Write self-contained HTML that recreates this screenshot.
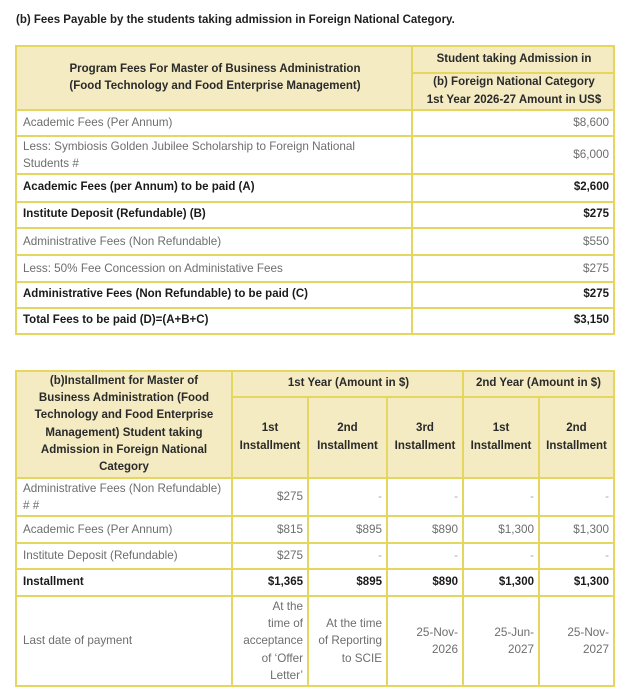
<!DOCTYPE html>
<html><head><meta charset="utf-8">
<style>
html,body{margin:0;padding:0;background:#fff;}
body{width:627px;height:698px;position:relative;overflow:hidden;font-family:"Liberation Sans",Arial,sans-serif;}
.t{position:absolute;left:16px;top:12px;font-size:11.5px;font-weight:bold;color:#1f1f1f;white-space:nowrap;line-height:16px;}
.bg{position:absolute;background:#f4ebc3;}
.c{position:absolute;display:flex;align-items:center;box-sizing:border-box;padding:0 5px 0 7px;line-height:17.2px;white-space:nowrap;font-size:11.7px;}
.r{justify-content:flex-end;text-align:right;}
.m{justify-content:center;text-align:center;}
.h{font-weight:bold;color:#2a2a2a;font-size:11.5px;}
.g{color:#6e6e6e;}
.b{font-weight:bold;color:#1a1a1a;font-size:11.5px;}
.d{color:#aaa;}
.hl{position:absolute;height:2px;background:#e4d65e;z-index:2;}
.vl{position:absolute;width:2px;background:#e4d65e;z-index:2;}
</style></head><body>
<div class="t">(b) Fees Payable by the students taking admission in Foreign National Category.</div>

<!-- TABLE 1 -->
<div class="bg" style="left:16px;top:46px;width:598px;height:64px;"></div>
<div class="hl" style="left:15px;top:45px;width:600px;"></div>
<div class="hl" style="left:411px;top:72px;width:204px;"></div>
<div class="hl" style="left:15px;top:109px;width:600px;"></div>
<div class="hl" style="left:15px;top:135px;width:600px;"></div>
<div class="hl" style="left:15px;top:173px;width:600px;"></div>
<div class="hl" style="left:15px;top:201px;width:600px;"></div>
<div class="hl" style="left:15px;top:227px;width:600px;"></div>
<div class="hl" style="left:15px;top:254px;width:600px;"></div>
<div class="hl" style="left:15px;top:281px;width:600px;"></div>
<div class="hl" style="left:15px;top:307px;width:600px;"></div>
<div class="hl" style="left:15px;top:333px;width:600px;"></div>
<div class="vl" style="left:15px;top:45px;height:290px;"></div>
<div class="vl" style="left:411px;top:45px;height:290px;"></div>
<div class="vl" style="left:613px;top:45px;height:290px;"></div>

<div class="c m h" style="left:16px;top:46px;width:396px;height:64px;">Program Fees For Master of Business Administration<br>(Food Technology and Food Enterprise Management)</div>
<div class="c m h" style="left:412px;top:46px;width:202px;height:27px;">Student taking Admission in</div>
<div class="c m h" style="left:412px;top:73px;width:202px;height:37px;">(b) Foreign National Category<br>1st Year 2026-27 Amount in US$</div>

<div class="c g" style="left:16px;top:110px;width:396px;height:26px;">Academic Fees (Per Annum)</div>
<div class="c r g" style="left:412px;top:110px;width:202px;height:26px;">$8,600</div>
<div class="c g" style="left:16px;top:136px;width:396px;height:38px;">Less: Symbiosis Golden Jubilee Scholarship to Foreign National<br>Students #</div>
<div class="c r g" style="left:412px;top:136px;width:202px;height:38px;">$6,000</div>
<div class="c b" style="left:16px;top:174px;width:396px;height:28px;">Academic Fees (per Annum) to be paid (A)</div>
<div class="c r b" style="left:412px;top:174px;width:202px;height:28px;">$2,600</div>
<div class="c b" style="left:16px;top:202px;width:396px;height:26px;">Institute Deposit (Refundable) (B)</div>
<div class="c r b" style="left:412px;top:202px;width:202px;height:26px;">$275</div>
<div class="c g" style="left:16px;top:228px;width:396px;height:27px;">Administrative Fees (Non Refundable)</div>
<div class="c r g" style="left:412px;top:228px;width:202px;height:27px;">$550</div>
<div class="c g" style="left:16px;top:255px;width:396px;height:27px;">Less: 50% Fee Concession on Administative Fees</div>
<div class="c r g" style="left:412px;top:255px;width:202px;height:27px;">$275</div>
<div class="c b" style="left:16px;top:282px;width:396px;height:26px;">Administrative Fees (Non Refundable) to be paid (C)</div>
<div class="c r b" style="left:412px;top:282px;width:202px;height:26px;">$275</div>
<div class="c b" style="left:16px;top:308px;width:396px;height:26px;">Total Fees to be paid (D)=(A+B+C)</div>
<div class="c r b" style="left:412px;top:308px;width:202px;height:26px;">$3,150</div>

<!-- TABLE 2 -->
<div class="bg" style="left:16px;top:371px;width:598px;height:107px;"></div>
<div class="hl" style="left:15px;top:370px;width:600px;"></div>
<div class="hl" style="left:231px;top:396px;width:384px;"></div>
<div class="hl" style="left:15px;top:477px;width:600px;"></div>
<div class="hl" style="left:15px;top:515px;width:600px;"></div>
<div class="hl" style="left:15px;top:542px;width:600px;"></div>
<div class="hl" style="left:15px;top:568px;width:600px;"></div>
<div class="hl" style="left:15px;top:595px;width:600px;"></div>
<div class="hl" style="left:15px;top:685px;width:600px;"></div>
<div class="vl" style="left:15px;top:370px;height:317px;"></div>
<div class="vl" style="left:231px;top:370px;height:317px;"></div>
<div class="vl" style="left:307px;top:396px;height:291px;"></div>
<div class="vl" style="left:386px;top:396px;height:291px;"></div>
<div class="vl" style="left:462px;top:370px;height:317px;"></div>
<div class="vl" style="left:538px;top:396px;height:291px;"></div>
<div class="vl" style="left:613px;top:370px;height:317px;"></div>

<div class="c m h" style="left:16px;top:371px;width:216px;height:107px;padding:0 4px;">(b)Installment for Master of<br>Business Administration (Food<br>Technology and Food Enterprise<br>Management) Student taking<br>Admission in Foreign National<br>Category</div>
<div class="c m h" style="left:232px;top:371px;width:231px;height:26px;">1st Year (Amount in $)</div>
<div class="c m h" style="left:463px;top:371px;width:151px;height:26px;padding:0 3px;">2nd Year (Amount in $)</div>
<div class="c m h" style="left:232px;top:397px;width:76px;height:81px;padding:0 2px;">1st<br>Installment</div>
<div class="c m h" style="left:308px;top:397px;width:79px;height:81px;padding:0 2px;">2nd<br>Installment</div>
<div class="c m h" style="left:387px;top:397px;width:76px;height:81px;padding:0 2px;">3rd<br>Installment</div>
<div class="c m h" style="left:463px;top:397px;width:76px;height:81px;padding:0 2px;">1st<br>Installment</div>
<div class="c m h" style="left:539px;top:397px;width:75px;height:81px;padding:0 2px;">2nd<br>Installment</div>

<!-- row admin -->
<div class="c g" style="left:16px;top:478px;width:216px;height:38px;">Administrative Fees (Non Refundable)<br># #</div>
<div class="c r g" style="left:232px;top:478px;width:76px;height:38px;">$275</div>
<div class="c r d" style="left:308px;top:478px;width:79px;height:38px;">-</div>
<div class="c r d" style="left:387px;top:478px;width:76px;height:38px;">-</div>
<div class="c r d" style="left:463px;top:478px;width:76px;height:38px;">-</div>
<div class="c r d" style="left:539px;top:478px;width:75px;height:38px;">-</div>
<!-- row academic -->
<div class="c g" style="left:16px;top:516px;width:216px;height:27px;">Academic Fees (Per Annum)</div>
<div class="c r g" style="left:232px;top:516px;width:76px;height:27px;">$815</div>
<div class="c r g" style="left:308px;top:516px;width:79px;height:27px;">$895</div>
<div class="c r g" style="left:387px;top:516px;width:76px;height:27px;">$890</div>
<div class="c r g" style="left:463px;top:516px;width:76px;height:27px;">$1,300</div>
<div class="c r g" style="left:539px;top:516px;width:75px;height:27px;">$1,300</div>
<!-- row deposit -->
<div class="c g" style="left:16px;top:543px;width:216px;height:26px;">Institute Deposit (Refundable)</div>
<div class="c r g" style="left:232px;top:543px;width:76px;height:26px;">$275</div>
<div class="c r d" style="left:308px;top:543px;width:79px;height:26px;">-</div>
<div class="c r d" style="left:387px;top:543px;width:76px;height:26px;">-</div>
<div class="c r d" style="left:463px;top:543px;width:76px;height:26px;">-</div>
<div class="c r d" style="left:539px;top:543px;width:75px;height:26px;">-</div>
<!-- row installment -->
<div class="c b" style="left:16px;top:569px;width:216px;height:27px;">Installment</div>
<div class="c r b" style="left:232px;top:569px;width:76px;height:27px;">$1,365</div>
<div class="c r b" style="left:308px;top:569px;width:79px;height:27px;">$895</div>
<div class="c r b" style="left:387px;top:569px;width:76px;height:27px;">$890</div>
<div class="c r b" style="left:463px;top:569px;width:76px;height:27px;">$1,300</div>
<div class="c r b" style="left:539px;top:569px;width:75px;height:27px;">$1,300</div>
<!-- row last date -->
<div class="c g" style="left:16px;top:596px;width:216px;height:90px;">Last date of payment</div>
<div class="c r g" style="left:232px;top:596px;width:76px;height:90px;padding:0 5px 0 2px;">At the<br>time of<br>acceptance<br>of ‘Offer<br>Letter’</div>
<div class="c r g" style="left:308px;top:596px;width:79px;height:90px;padding:0 5px 0 2px;">At the time<br>of Reporting<br>to SCIE</div>
<div class="c r g" style="left:387px;top:596px;width:76px;height:90px;">25-Nov-<br>2026</div>
<div class="c r g" style="left:463px;top:596px;width:76px;height:90px;">25-Jun-<br>2027</div>
<div class="c r g" style="left:539px;top:596px;width:75px;height:90px;">25-Nov-<br>2027</div>
</body></html>
